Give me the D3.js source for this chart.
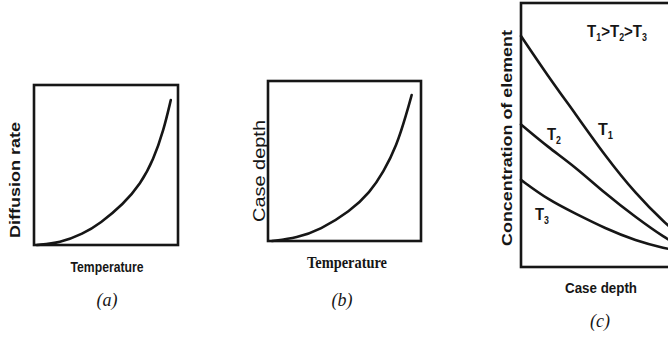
<!DOCTYPE html>
<html>
<head>
<meta charset="utf-8">
<script src="https://cdn.jsdelivr.net/npm/d3@7"></script>
<style>
  body { margin: 0; background: #fff; }
  svg { display: block; }
  text { fill: #161616; }
</style>
</head>
<body>
<div id="chart"></div>
<script>
// curve data, normalised 0..1 on each axis
const diffusionX = [0.02, 0.18, 0.34, 0.46, 0.62, 0.74, 0.83, 0.90, 0.95];
const diffusionY = [0.00, 0.013, 0.069, 0.135, 0.255, 0.381, 0.534, 0.716, 0.906];

const caseDepthX = [0.026, 0.19, 0.34, 0.536, 0.667, 0.754, 0.841, 0.906, 0.939];
const caseDepthY = [0.00, 0.02, 0.07, 0.185, 0.305, 0.43, 0.595, 0.798, 0.9125];

const depthX = [0.00, 0.17, 0.34, 0.53, 0.72, 0.91, 1.00];
const concT1 = [0.875, 0.723, 0.582, 0.42, 0.278, 0.163, 0.12];
const concT2 = [0.54, 0.454, 0.38, 0.278, 0.189, 0.108, 0.08];
const concT3 = [0.33, 0.255, 0.203, 0.146, 0.10, 0.07, 0.06];

const seriesNames = ["T1", "T2", "T3"];
const panelLabels = ["(a)", "(b)", "(c)"];

const W = 668, H = 345;
const ink = "#161616";
const sans = "'Liberation Sans', Arial, sans-serif";
const serif = "'Liberation Serif', 'Times New Roman', serif";

const svg = d3.select("#chart").append("svg")
    .attr("width", W).attr("height", H);

// draw one framed panel, returns its scales
function panel(box) {
    const x = d3.scaleLinear().domain([0, 1]).range([box.x0, box.x1]);
    const y = d3.scaleLinear().domain([0, 1]).range([box.y1, box.y0]);
    svg.append("rect")
        .attr("x", box.x0).attr("y", box.y0)
        .attr("width", box.x1 - box.x0).attr("height", box.y1 - box.y0)
        .attr("fill", "none").attr("stroke", ink).attr("stroke-width", 2.6);
    return { x, y };
}

function curve(sc, xs, ys) {
    const line = d3.line()
        .x((d, i) => sc.x(xs[i]))
        .y(d => sc.y(d))
        .curve(d3.curveBasis);
    svg.append("path")
        .attr("d", line(ys))
        .attr("fill", "none").attr("stroke", ink)
        .attr("stroke-width", 2.6).attr("stroke-linecap", "round");
}

function label(txt, x, y, opts) {
    const t = svg.append("text")
        .attr("x", x).attr("y", y)
        .attr("text-anchor", "middle")
        .attr("font-family", opts.family || sans)
        .attr("font-size", opts.size || 14)
        .attr("font-weight", opts.weight || "normal")
        .attr("font-style", opts.style || "normal")
        .text(txt);
    if (opts.len) t.attr("textLength", opts.len).attr("lengthAdjust", "spacingAndGlyphs");
    if (opts.rotate) t.attr("transform", `rotate(-90,${x},${y})`);
    return t;
}

// (a) diffusion rate vs temperature
const a = panel({ x0: 34, x1: 178, y0: 85, y1: 245 });
curve(a, diffusionX, diffusionY);
label("Diffusion rate", 20, 180, { size: 15, weight: "bold", len: 116, rotate: true });
label("Temperature", 107, 272, { size: 15, weight: "bold", len: 73 });
label(panelLabels[0], 107, 306, { family: serif, size: 18, style: "italic" });

// (b) case depth vs temperature
const b = panel({ x0: 268, x1: 421, y0: 81, y1: 241 });
curve(b, caseDepthX, caseDepthY);
label("Case depth", 265, 171, { size: 16, len: 102, rotate: true });
label("Temperature", 347, 268, { family: serif, size: 17, weight: "bold", len: 80 });
label(panelLabels[1], 342, 306, { family: serif, size: 18, style: "italic" });

// (c) concentration vs case depth, box runs past the right edge
const c = panel({ x0: 521, x1: 680, y0: 3, y1: 267 });
[concT1, concT2, concT3].forEach(s => curve(c, depthX, s));
label("Concentration of element", 512, 138, { size: 15, weight: "bold", len: 216, rotate: true });
label("Case depth", 601, 293, { size: 15, weight: "bold", len: 72 });
label(panelLabels[2], 600, 327, { family: serif, size: 18, style: "italic" });

// series labels with subscripts, squeezed like the condensed face of the scan
function tLabel(parts, x, y, len) {
    const t = svg.append("text")
        .attr("x", x).attr("y", y)
        .attr("font-family", sans)
        .attr("font-weight", "bold")
        .attr("font-size", 17)
        .attr("textLength", len)
        .attr("lengthAdjust", "spacingAndGlyphs");
    parts.forEach(p => {
        t.append("tspan").text(p.t)
            .attr("font-size", p.sub ? 10 : 17)
            .attr("dy", p.dy || 0);
    });
}
const sub = n => [{ t: "T" }, { t: n, sub: true, dy: 4 }];
tLabel([{ t: "T" }, { t: "1", sub: true, dy: 4 }, { t: ">", dy: -4 },
        { t: "T" }, { t: "2", sub: true, dy: 4 }, { t: ">", dy: -4 },
        { t: "T" }, { t: "3", sub: true, dy: 4 }], 587, 37, 60);
tLabel(sub(seriesNames[0].slice(1)), 598, 135, 15);
tLabel(sub(seriesNames[1].slice(1)), 547, 140, 14);
tLabel(sub(seriesNames[2].slice(1)), 535, 220, 14);
</script>
</body>
</html>
